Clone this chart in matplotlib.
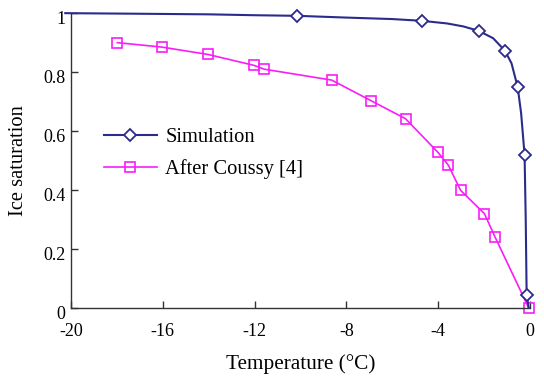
import matplotlib.pyplot as plt
import matplotlib.transforms as mtransforms

# Simulation curve (line points) and where its markers sit
sim_t = [-20.25, -17, -14, -12, -10.14, -8, -6, -4.7, -3.6, -2.9, -2.23,
         -1.6, -1.09, -0.8, -0.53, -0.38, -0.23, -0.18, -0.14, -0.05]
sim_s = [1.0, 0.998, 0.996, 0.993, 0.991, 0.985, 0.98, 0.974, 0.965, 0.955, 0.94,
         0.915, 0.873, 0.83, 0.749, 0.66, 0.519, 0.3, 0.045, 0.0]
sim_marks = [4, 7, 10, 12, 14, 16, 18]

# After Coussy [4]
cou_t = [-17.98, -16.05, -14.03, -12.03, -11.58, -8.64, -6.92, -5.42,
         -4.02, -3.55, -3.02, -1.98, -1.52, -0.05]
cou_s = [0.90, 0.885, 0.860, 0.823, 0.810, 0.773, 0.703, 0.642,
         0.529, 0.484, 0.399, 0.320, 0.241, 0.0]

x_ticks = [-20, -16, -12, -8, -4, 0]
x_labels = ["-20", "-16", "-12", "-8", "-4", "0"]
y_ticks = [0, 0.2, 0.4, 0.6, 0.8, 1]
y_labels = ["0", "0.2", "0.4", "0.6", "0.8", "1"]

blue = "#2B2B8E"
magenta = "#F71EF7"

plt.rcParams["font.family"] = ["Liberation Serif", "DejaVu Serif"]

fig = plt.figure(figsize=(5.44, 3.76), dpi=100)
ax = fig.add_axes([0.1305, 0.181, 0.8435, 0.784])

ax.plot(sim_t, sim_s, color=blue, lw=1.5, marker="D", markevery=sim_marks,
        ms=6.5, mfc="white", mec=blue, mew=1.3, clip_on=False,
        label="Simulation", zorder=3)
ax.plot(cou_t, cou_s, color=magenta, lw=1.2, marker="s", ms=6.5,
        mfc="none", mec=magenta, mew=1.2, clip_on=False,
        label="After Coussy [4]", zorder=2)

ax.set_xlim(-20, 0)
ax.set_ylim(0, 1)
ax.set_xticks(x_ticks)
ax.set_xticklabels(x_labels)
ax.set_yticks(y_ticks)
ax.set_yticklabels(y_labels)

for side in ["top", "right"]:
    ax.spines[side].set_visible(False)
for side in ["left", "bottom"]:
    ax.spines[side].set_color("#333333")
    ax.spines[side].set_linewidth(1.0)

ax.tick_params(direction="in", length=5, width=1.0, color="#333333",
               labelsize=13)
ax.tick_params(axis="x", pad=11)
ax.tick_params(axis="y", pad=4)

# y tick labels sit a little below their ticks in the reference
offset = mtransforms.ScaledTranslation(0, -3 / 72, fig.dpi_scale_trans)
for lab in ax.get_yticklabels():
    lab.set_transform(lab.get_transform() + offset)

ax.set_xlabel("Temperature (°C)", fontsize=15.3, labelpad=10)
ax.set_ylabel("Ice saturation", fontsize=14.8, labelpad=11)

ax.legend(loc="upper left", bbox_to_anchor=(0.071, 0.612), frameon=False,
          fontsize=14.8, handlelength=2.6, handletextpad=0.4,
          labelspacing=0.6, borderpad=0, borderaxespad=0)

fig.savefig("out.png", dpi=100)
